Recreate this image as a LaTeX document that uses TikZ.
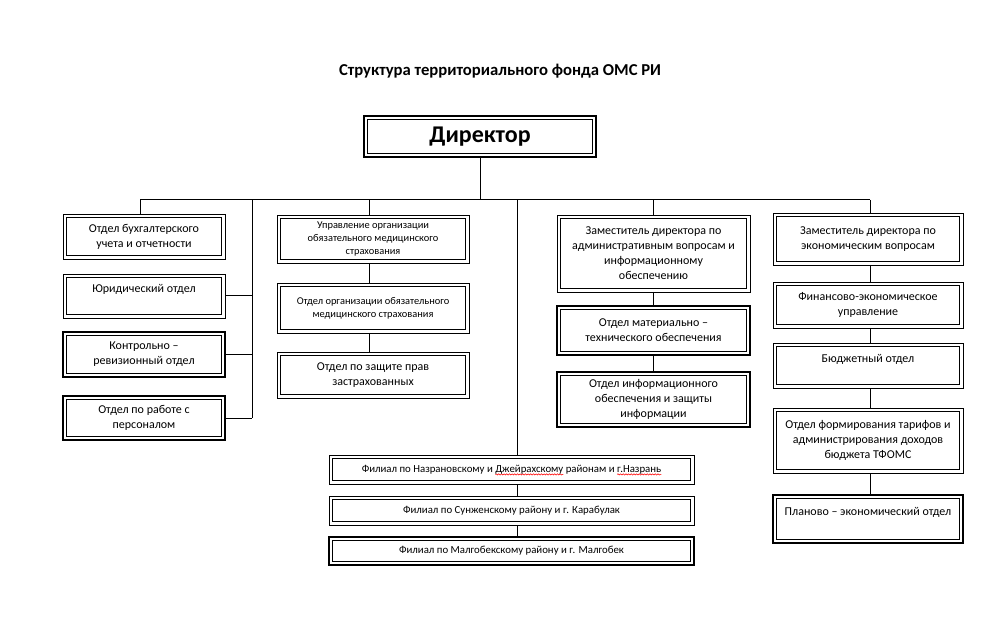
\documentclass[tikz,border=0pt]{standalone}
\usepackage{fontspec}
\setmainfont{Carlito}
\usetikzlibrary{positioning, decorations.pathmorphing}

\newsavebox\spellbox
\newcommand\spellmark[1]{\sbox\spellbox{#1}\rlap{\tikz[overlay]\draw[red, line width=0.4pt, decorate, decoration={snake, amplitude=0.45pt, segment length=2pt}] (0pt,-1.6pt) -- (\wd\spellbox,-1.6pt);}\usebox\spellbox}

\tikzset{
  thinout/.style={draw, line width=0.6pt, outer sep=0pt, align=center,
    path picture={\draw[line width=1.2pt] ([shift={(2.7pt,-2.7pt)}]path picture bounding box.north west) rectangle ([shift={(-2.7pt,2.7pt)}]path picture bounding box.south east);}},
  thickout/.style={draw, line width=1.2pt, outer sep=0pt, align=center,
    path picture={\draw[line width=0.6pt] ([shift={(2.7pt,-2.7pt)}]path picture bounding box.north west) rectangle ([shift={(-2.7pt,2.7pt)}]path picture bounding box.south east);}},
  sz/.style 2 args={minimum width=#1*0.75pt, minimum height=#2*0.75pt},
  body/.style={font=\fontsize{9}{11.25}\selectfont},
  small/.style={font=\fontsize{7.8}{9.6}\selectfont},
  branch/.style={font=\fontsize{8.1}{9.6}\selectfont},
  link/.style={line width=0.75pt}
}

\begin{document}
\begin{tikzpicture}[x=0.75pt, y=-0.75pt]
  \useasboundingbox (0,0) rectangle (999,641);

  \node[font=\bfseries\fontsize{12.5}{15}\selectfont] (title) at (500,71) {Структура территориального фонда ОМС РИ};
  \node[thickout, sz={232}{41}, font=\bfseries\fontsize{18}{21}\selectfont] (dir) at (480,136.5) {Директор};

  % left column
  \node[thinout, body, sz={162}{45}] (acct) at (144,236.5) {Отдел бухгалтерского\\учета и отчетности};
  \node[thinout, body, sz={162}{44}, below=11.25pt of acct] (law) {Юридический отдел\\\phantom{Ю}};
  \node[thickout, body, sz={162}{45}, below=10.5pt of law] (audit) {Контрольно –\\ревизионный отдел};
  \node[thickout, body, sz={162}{44}, below=14.25pt of audit] (staff) {Отдел по работе с\\персоналом};

  % medical insurance column
  \node[thinout, small, sz={192}{48}] (med) at (373,239) {Управление организации\\обязательного медицинского\\страхования};
  \node[thinout, small, sz={192}{50}, below=15pt of med] (medins) {Отдел организации обязательного\\медицинского страхования};
  \node[thinout, body, sz={192}{46}, below=14.25pt of medins] (rights) {Отдел по защите прав\\застрахованных};

  % administrative column
  \node[thinout, body, sz={193}{77}] (adm) at (653.5,253.5) {Заместитель директора по\\административным вопросам и\\информационному\\обеспечению};
  \node[thickout, body, sz={193}{49}, below=10.5pt of adm] (supply) {Отдел материально –\\технического обеспечения};
  \node[thickout, body, sz={193}{55}, below=12.75pt of supply] (info) {Отдел информационного\\обеспечения и защиты\\информации};

  % economic column
  \node[thinout, body, sz={190}{52}] (eco) at (868,239) {Заместитель директора по\\экономическим вопросам};
  \node[thinout, body, sz={190}{46}, below=12.75pt of eco] (fin) {Финансово-экономическое\\управление};
  \node[thinout, body, sz={190}{45}, below=11.25pt of fin] (budget) {Бюджетный отдел\\\phantom{Б}};
  \node[thinout, body, sz={190}{65}, below=15pt of budget] (tariff) {Отдел формирования тарифов и\\администрирования доходов\\бюджета ТФОМС};
  \node[thickout, body, sz={190}{48}, below=16.5pt of tariff] (plan) {Планово – экономический отдел\\\phantom{П}};

  % branches
  \node[thinout, branch, sz={365}{29}] (fil1) at (511.5,469.5) {Филиал по Назрановскому и \spellmark{Джейрахскому} районам и \spellmark{г.Назрань}};
  \node[thinout, branch, sz={365}{29}, below=9pt of fil1] (fil2) {Филиал по Сунженскому району и г. Карабулак};
  \node[thickout, branch, sz={365}{28}, below=9pt of fil2] (fil3) {Филиал по Малгобекскому району и г. Малгобек};

  % bus
  \coordinate (busL) at (140,200);
  \coordinate (busR) at (870,200);
  \coordinate (jDir) at (480,200);
  \coordinate (jSide) at (252,200);
  \coordinate (jMed) at (369,200);
  \coordinate (jFil) at (517,200);
  \coordinate (jAdm) at (653,200);

  \draw[link] (dir.south) -- (jDir);
  \draw[link] (busL) -- (busR);
  \draw[link] (busL) -- (busL |- acct.north);
  \draw[link] (jSide) -- (jSide |- staff.east);
  \draw[link] (law.east) -- (law.east -| jSide);
  \draw[link] (audit.east) -- (audit.east -| jSide);
  \draw[link] (staff.east) -- (staff.east -| jSide);

  \draw[link] (jMed) -- (jMed |- med.north);
  \draw[link] (jMed |- med.south) -- (jMed |- medins.north);
  \draw[link] (jMed |- medins.south) -- (jMed |- rights.north);

  \draw[link] (jFil) -- (jFil |- fil1.north);
  \draw[link] (jFil |- fil1.south) -- (jFil |- fil2.north);
  \draw[link] (jFil |- fil2.south) -- (jFil |- fil3.north);

  \draw[link] (jAdm) -- (jAdm |- adm.north);
  \draw[link] (jAdm |- adm.south) -- (jAdm |- supply.north);
  \draw[link] (jAdm |- supply.south) -- (jAdm |- info.north);

  \draw[link] (busR) -- (busR |- eco.north);
  \draw[link] (busR |- eco.south) -- (busR |- fin.north);
  \draw[link] (busR |- fin.south) -- (busR |- budget.north);
  \draw[link] (busR |- budget.south) -- (busR |- tariff.north);
  \draw[link] (busR |- tariff.south) -- (busR |- plan.north);
\end{tikzpicture}
\end{document}
